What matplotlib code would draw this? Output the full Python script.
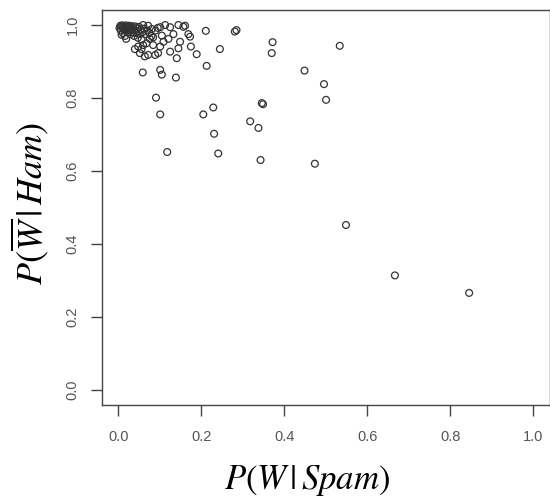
import matplotlib
matplotlib.use("Agg")
import matplotlib.pyplot as plt

# P(W|Spam) values
p_w_spam = [
    0.846, 0.667, 0.549, 0.474, 0.343, 0.241, 0.118, 0.231, 0.338, 0.318,
    0.346, 0.349, 0.229, 0.205, 0.101, 0.091, 0.501, 0.496, 0.449, 0.534,
    0.372, 0.370, 0.281, 0.285, 0.213, 0.245, 0.211, 0.173, 0.175, 0.189,
    0.157, 0.141, 0.139, 0.101, 0.105, 0.059, 0.149, 0.145, 0.125, 0.109,
    0.101, 0.084, 0.068, 0.072, 0.089, 0.040, 0.056, 0.048, 0.060, 0.052,
    0.064, 0.096, 0.008, 0.072, 0.081, 0.101, 0.113, 0.125, 0.145, 0.161,
    0.169, 0.133, 0.105, 0.084, 0.076, 0.121, 0.060,
    0.005, 0.008, 0.010, 0.012, 0.014, 0.015, 0.017, 0.018, 0.020, 0.021,
    0.023, 0.024, 0.026, 0.027, 0.029, 0.030, 0.032, 0.033, 0.035, 0.036,
    0.038, 0.040, 0.041, 0.043, 0.045, 0.047, 0.048, 0.050, 0.052, 0.054,
    0.056, 0.058, 0.006, 0.011, 0.016, 0.019, 0.003, 0.062, 0.065, 0.070,
    0.075, 0.080, 0.090, 0.095,
]
# P(not W|Ham) values
p_notw_ham = [
    0.266, 0.314, 0.452, 0.620, 0.630, 0.648, 0.652, 0.702, 0.718, 0.736,
    0.786, 0.783, 0.774, 0.755, 0.755, 0.801, 0.795, 0.838, 0.875, 0.943,
    0.953, 0.923, 0.982, 0.986, 0.888, 0.934, 0.984, 0.968, 0.941, 0.920,
    0.995, 0.909, 0.856, 0.877, 0.864, 0.870, 0.954, 0.936, 0.927, 0.954,
    0.941, 0.945, 0.950, 0.918, 0.918, 0.934, 0.934, 0.941, 0.945, 0.923,
    0.914, 0.923, 0.973, 0.998, 0.989, 0.994, 1.000, 0.994, 1.000, 0.998,
    0.975, 0.975, 0.971, 0.966, 0.962, 0.962, 1.000,
    0.998, 0.995, 0.999, 0.990, 0.996, 0.985, 0.993, 0.999, 0.988, 0.995,
    0.980, 0.992, 0.998, 0.985, 0.975, 0.993, 0.988, 0.997, 0.980, 0.992,
    0.970, 0.986, 0.996, 0.978, 0.990, 0.965, 0.983, 0.995, 0.975, 0.988,
    0.960, 0.980, 0.985, 0.978, 0.970, 0.962, 0.992, 0.990, 0.975, 0.985,
    0.978, 0.970, 0.985, 0.992,
]

tick_vals = [0.0, 0.2, 0.4, 0.6, 0.8, 1.0]
tick_labels = ["0.0", "0.2", "0.4", "0.6", "0.8", "1.0"]

plt.rcParams["mathtext.fontset"] = "stix"
plt.rcParams["font.family"] = ["Liberation Sans", "DejaVu Sans"]

W, H = 550, 496
fig = plt.figure(figsize=(W / 100, H / 100), dpi=100)
ax = fig.add_axes([101.7 / W, 1 - 404.6 / H, (549.6 - 101.7) / W, (404.6 - 10.4) / H])

ax.scatter(p_w_spam, p_notw_ham, s=24, facecolors="none", edgecolors="#333333", linewidths=0.9)

ax.set_xlim(-0.04, 1.04)
ax.set_ylim(-0.04, 1.04)
ax.set_xticks(tick_vals)
ax.set_xticklabels(tick_labels)
ax.set_yticks(tick_vals)
ax.set_yticklabels(tick_labels, rotation=90, va="center")
ax.tick_params(axis="both", direction="out", length=8, width=1.0, color="#444444",
               labelsize=10.5, labelcolor="#555555")
ax.tick_params(axis="x", pad=10)
ax.tick_params(axis="y", pad=8)
for sp in ax.spines.values():
    sp.set_color("#444444")
    sp.set_linewidth(1.0)

fig.text(307.5 / W, 1 - 480 / H, r"$P(W\,|\,Spam)$", ha="center", va="center", fontsize=25)
fig.text(30 / W, 1 - 203.3 / H, r"$P(\overline{W}\,|\,Ham)$", ha="center", va="center",
         fontsize=26, rotation=90)

fig.savefig("out.png", dpi=100)
